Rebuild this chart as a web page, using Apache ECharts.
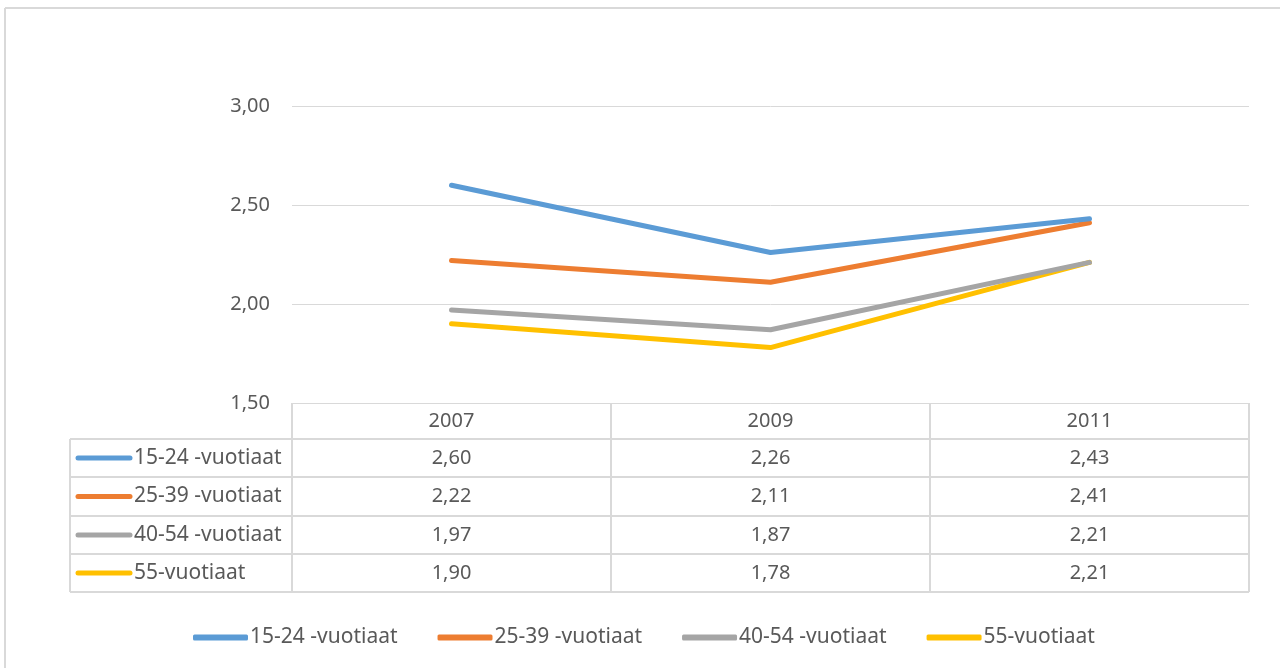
<!DOCTYPE html>
<html>
<head>
<meta charset="utf-8">
<script src="https://cdn.jsdelivr.net/npm/echarts@6/dist/echarts.min.js"></script>
<style>
  html, body { margin: 0; padding: 0; background: #fff; }
  #chart { width: 1280px; height: 668px; }
</style>
</head>
<body>
<div id="chart"></div>
<script>
const years = ['2007', '2009', '2011'];
const seriesNames = ['15-24 -vuotiaat', '25-39 -vuotiaat', '40-54 -vuotiaat', '55-vuotiaat'];
const age15to24 = [2.60, 2.26, 2.43];
const age25to39 = [2.22, 2.11, 2.41];
const age40to54 = [1.97, 1.87, 2.21];
const age55plus = [1.90, 1.78, 2.21];
const colors = ['#5B9BD5', '#ED7D31', '#A5A5A5', '#FFC000'];

const allData = [age15to24, age25to39, age40to54, age55plus];
const font = 'Noto Sans';
const fontSize = 20;
const nameSize = 21;
const textColor = '#595959';
const lineColor = '#D9D9D9';

// table geometry
const plotLeft = 292, plotRight = 1249, plotTop = 106, plotBottom = 403;
const tableLeft = 70;
const rowYs = [403, 439, 477, 516, 554, 592];

const fmt = v => v.toFixed(2).replace('.', ',');

const chart = echarts.init(document.getElementById('chart'));

const series = seriesNames.map((name, i) => ({
  name: name,
  type: 'line',
  data: allData[i],
  symbol: 'none',
  lineStyle: { width: 5, color: colors[i], cap: 'round', join: 'round' },
  itemStyle: { color: colors[i] },
  z: 10 - i
}));

chart.setOption({
  animation: false,
  textStyle: { fontFamily: font },
  grid: { left: plotLeft, right: 1280 - plotRight, top: plotTop, bottom: 668 - plotBottom },
  legend: {
    data: seriesNames,
    bottom: 15,
    left: 188,
    itemWidth: 55,
    itemHeight: 6,
    itemGap: 40,
    icon: 'roundRect',
    textStyle: { color: textColor, fontSize: nameSize, fontFamily: font, padding: [0, 0, 0, -3] }
  },
  xAxis: {
    type: 'category',
    data: years,
    boundaryGap: true,
    axisLine: { show: true, lineStyle: { color: lineColor, width: 1 } },
    axisTick: { show: false },
    axisLabel: { color: textColor, fontSize: fontSize, fontFamily: font, margin: 8 }
  },
  yAxis: {
    type: 'value',
    min: 1.5,
    max: 3,
    interval: 0.5,
    axisLine: { show: false },
    axisTick: { show: false },
    splitLine: { lineStyle: { color: lineColor, width: 1 } },
    axisLabel: { color: textColor, fontSize: fontSize, fontFamily: font, margin: 22, formatter: v => fmt(v) }
  },
  series: series
});

// data table drawn below the plot
const g = [];
const L = (x1, y1, x2, y2) => g.push({
  type: 'line', silent: true,
  shape: { x1, y1, x2, y2 },
  style: { stroke: lineColor, lineWidth: 2 }
});

// outer chart border (top and left visible)
L(5, 8, 1280, 8);
L(5, 8, 5, 668);

// column boundaries at category edges
const colW = (plotRight - plotLeft) / years.length;
for (let c = 0; c <= years.length; c++) {
  const x = plotLeft + c * colW;
  L(x, rowYs[0], x, rowYs[rowYs.length - 1]);
}
L(tableLeft, rowYs[1], tableLeft, rowYs[rowYs.length - 1]);
for (let r = 1; r < rowYs.length; r++) {
  L(tableLeft, rowYs[r], plotRight, rowYs[r]);
}

const cellFont = fontSize + 'px "' + font + '"';
const nameFont = nameSize + 'px "' + font + '"';
seriesNames.forEach((name, i) => {
  const yMid = (rowYs[i + 1] + rowYs[i + 2]) / 2;
  g.push({
    type: 'line', silent: true,
    shape: { x1: 78, y1: yMid, x2: 130, y2: yMid },
    style: { stroke: colors[i], lineWidth: 5, lineCap: 'round' }
  });
  g.push({
    type: 'text', silent: true,
    x: 134, y: yMid,
    style: { text: name, fill: textColor, font: nameFont, verticalAlign: 'middle', align: 'left' }
  });
  allData[i].forEach((v, j) => {
    const x = chart.convertToPixel({ xAxisIndex: 0 }, years[j]);
    g.push({
      type: 'text', silent: true,
      x: x, y: yMid,
      style: { text: fmt(v), fill: textColor, font: cellFont, verticalAlign: 'middle', align: 'center' }
    });
  });
});

chart.setOption({ graphic: g });
</script>
</body>
</html>
